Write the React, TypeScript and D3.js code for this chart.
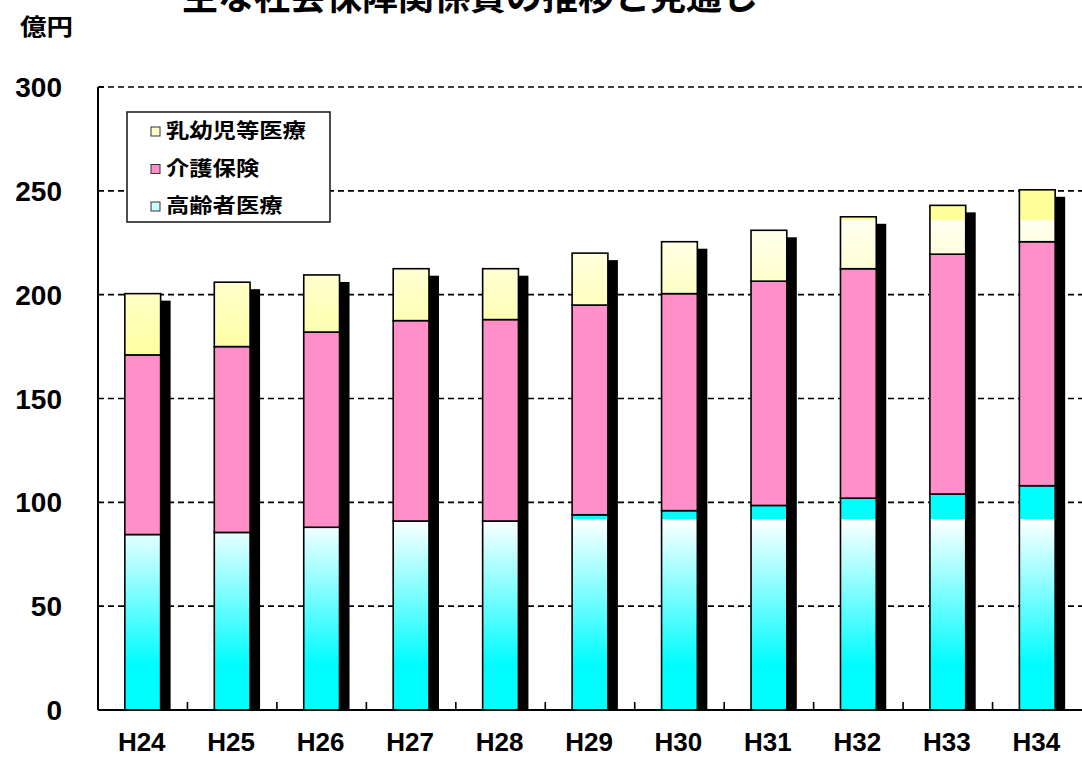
import { useMemo } from 'react';
import * as d3 from 'd3';

const categories = ['H24', 'H25', 'H26', 'H27', 'H28', 'H29', 'H30', 'H31', 'H32', 'H33', 'H34'];
// 高齢者医療 / 介護保険 / 乳幼児等医療 (億円)
const elderly = [84.5, 85.5, 88, 91, 91, 94, 96, 98.5, 102, 104, 108];
const care = [86.5, 89.5, 94, 96.5, 97, 101, 104.5, 108, 110.5, 115.5, 117.5];
const infant = [29.5, 31, 27.5, 25, 24.5, 25, 25, 24.5, 25, 23.5, 25];
const yTicks = [0, 50, 100, 150, 200, 250, 300];
const legendItems = ['乳幼児等医療', '介護保険', '高齢者医療'];

const W = 1082;
const H = 758;
const left = 98;
const right = 1082;
const top = 87;
const bottom = 710;

const jp = '"Noto Sans CJK JP", "Noto Sans", sans-serif';
const num = '"Liberation Sans", Arial, sans-serif';

type Row = { cat: string; elderly: number; care: number; infant: number };

const App = () => {
  const rows = useMemo<Row[]>(
    () => categories.map((cat, i) => ({ cat, elderly: elderly[i], care: care[i], infant: infant[i] })),
    []
  );

  const x = useMemo(
    () => d3.scaleBand<string>().domain(categories).range([left, right]).paddingInner(0.6).paddingOuter(0.3),
    []
  );
  const y = useMemo(() => d3.scaleLinear().domain([0, 300]).range([bottom, top]), []);

  const series = useMemo(
    () => d3.stack<Row>().keys(['elderly', 'care', 'infant'])(rows),
    [rows]
  );

  const fills: Record<string, string> = {
    elderly: 'url(#gCyan)',
    care: '#FF8FC8',
    infant: 'url(#gYellow)',
  };
  const swatch = ['#FFFFCC', '#FF8FC8', '#CCFFFF'];

  const step = x.step();
  const bw = x.bandwidth();
  const off = (v: number) => `${v / 300}`;

  return (
    <svg width={W} height={H} style={{ position: 'absolute', left: 0, top: 0, background: '#fff' }}>
      <defs>
        <linearGradient id="gCyan" gradientUnits="userSpaceOnUse" x1="0" x2="0" y1={y(0)} y2={y(300)}>
          <stop offset="0" stopColor="#00FFFF" />
          <stop offset={off(22)} stopColor="#00FCFF" />
          <stop offset={off(92)} stopColor="#FFFFFF" />
          <stop offset={off(92.1)} stopColor="#00FFFF" />
          <stop offset="1" stopColor="#00FFFF" />
        </linearGradient>
        <linearGradient id="gYellow" gradientUnits="userSpaceOnUse" x1="0" x2="0" y1={y(0)} y2={y(300)}>
          <stop offset="0" stopColor="#FFFF99" />
          <stop offset={off(168)} stopColor="#FFFF9C" />
          <stop offset={off(236)} stopColor="#FFFFF2" />
          <stop offset={off(236.1)} stopColor="#FFFF99" />
          <stop offset="1" stopColor="#FFFF99" />
        </linearGradient>
      </defs>

      {/* title (cut at the top edge, as in the source image) */}
      <text x={470} y={10} textAnchor="middle" fontFamily={jp} fontWeight={700} fontSize={36}>
        主な社会保障関係費の推移と見通し
      </text>
      <text x={20} y={35} fontFamily={jp} fontWeight={700} fontSize={23} textLength={53} lengthAdjust="spacingAndGlyphs">
        億円
      </text>

      {/* grid lines */}
      {yTicks.filter(t => t > 0).map(t => (
        <line key={t} x1={left} x2={right} y1={y(t)} y2={y(t)} stroke="#000" strokeWidth={1.6} strokeDasharray="6,4" />
      ))}

      {/* y tick labels */}
      {yTicks.map(t => (
        <text key={t} x={62} y={y(t)} dy="0.36em" textAnchor="end" fontFamily={num} fontWeight={700} fontSize={28}>
          {t}
        </text>
      ))}

      {/* shadows */}
      {rows.map(r => {
        const total = r.elderly + r.care + r.infant;
        const x0 = (x(r.cat) ?? 0) + 10;
        const y0 = y(total) + 7;
        return <rect key={r.cat} x={x0} y={y0} width={bw} height={y(0) - y0} fill="#000" />;
      })}

      {/* stacked bars */}
      {series.map(s => (
        <g key={s.key}>
          {s.map(d => (
            <rect
              key={d.data.cat}
              x={x(d.data.cat)}
              y={y(d[1])}
              width={bw}
              height={y(d[0]) - y(d[1])}
              fill={fills[s.key]}
              stroke="#000"
              strokeWidth={1.6}
            />
          ))}
        </g>
      ))}

      {/* axes */}
      <line x1={left} x2={left} y1={top} y2={bottom} stroke="#000" strokeWidth={2} />
      <line x1={left} x2={left + 6} y1={top} y2={top} stroke="#000" strokeWidth={2} />
      <line x1={left} x2={right} y1={bottom} y2={bottom} stroke="#000" strokeWidth={2.2} />
      {categories.slice(1).map(c => {
        const bx = (x(c) ?? 0) - step * 0.3;
        return <line key={c} x1={bx} x2={bx} y1={bottom} y2={bottom - 8} stroke="#000" strokeWidth={1.6} />;
      })}
      {categories.map(c => (
        <text key={c} x={(x(c) ?? 0) + bw / 2 - 1} y={751} textAnchor="middle" fontFamily={num} fontWeight={700} fontSize={26}>
          {c}
        </text>
      ))}

      {/* legend */}
      <rect x={127} y={112} width={203} height={110} fill="#fff" stroke="#222" strokeWidth={1.6} />
      {legendItems.map((t, i) => {
        const cy = 131 + i * 37.5;
        return (
          <g key={t}>
            <rect x={151} y={cy - 4} width={9} height={9} fill={swatch[i]} stroke="#333" strokeWidth={1} />
            <text
              x={166}
              y={cy}
              dy="0.36em"
              fontFamily={jp}
              fontWeight={700}
              fontSize={20}
              textLength={23.3 * t.length}
              lengthAdjust="spacingAndGlyphs"
            >
              {t}
            </text>
          </g>
        );
      })}
    </svg>
  );
};

export default App;
